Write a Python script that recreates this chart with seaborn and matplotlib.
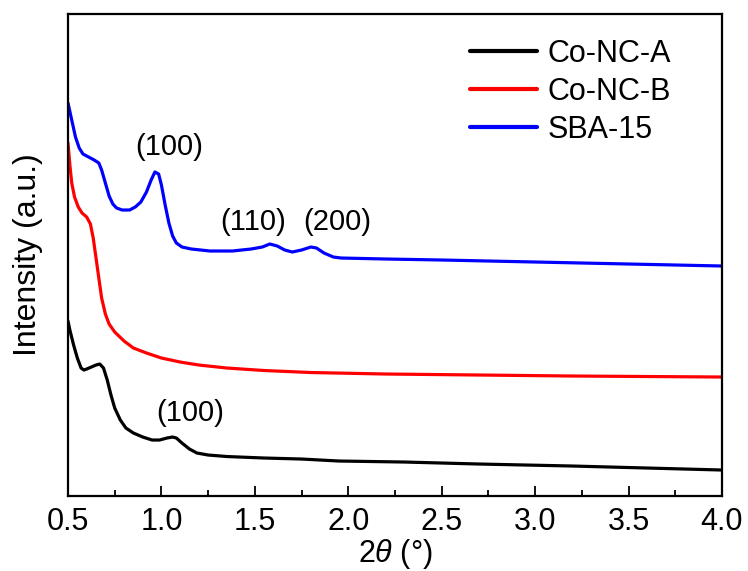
import numpy as np
import pandas as pd
import seaborn as sns
import matplotlib
matplotlib.use("Agg")
import matplotlib.pyplot as plt
from matplotlib.ticker import MultipleLocator

# Data (y in arbitrary intensity units)
sba_x = [0.50, 0.52, 0.54, 0.56, 0.58, 0.61, 0.64, 0.665, 0.68, 0.70, 0.72, 0.74, 0.76, 0.79,
         0.83, 0.86, 0.89, 0.92, 0.945, 0.965, 0.985, 1.00, 1.02, 1.04, 1.06, 1.08, 1.11, 1.16,
         1.26, 1.38, 1.48, 1.54, 1.58, 1.62, 1.66, 1.70, 1.75, 1.80, 1.83, 1.87, 1.92, 1.96,
         2.2, 2.5, 3.0, 3.5, 4.0]
sba_y = [393, 376, 359, 348, 342, 339, 336, 333, 326, 313, 300, 292, 288, 286,
         286, 289, 294, 304, 316, 324, 322, 311, 291, 273, 260, 253, 249, 247,
         245, 245, 247, 249, 252, 250, 246, 244, 246, 249, 248, 243, 239, 238,
         237, 236, 234, 232, 230]

ncb_x = [0.50, 0.51, 0.52, 0.535, 0.555, 0.575, 0.60, 0.62, 0.635, 0.65, 0.665, 0.68, 0.70,
         0.72, 0.75, 0.80, 0.85, 0.92, 1.00, 1.10, 1.20, 1.35, 1.55, 1.80, 2.2, 2.7, 3.2, 4.0]
ncb_y = [353, 331, 313, 299, 289, 283, 279, 272, 258, 238, 218, 198, 182,
         172, 164, 155, 148, 143, 138, 134, 131, 128, 125.5, 123.5, 122, 121, 120, 119]

nca_x = [0.50, 0.51, 0.53, 0.55, 0.57, 0.585, 0.60, 0.625, 0.65, 0.67, 0.69, 0.71, 0.73, 0.75,
         0.78, 0.81, 0.85, 0.90, 0.95, 0.99, 1.03, 1.06, 1.08, 1.11, 1.15, 1.19, 1.25, 1.35,
         1.55, 1.75, 1.95, 2.3, 2.7, 3.2, 3.6, 4.0]
nca_y = [175, 166, 151, 138, 128, 126, 127, 129, 131, 132, 128, 116, 101, 88,
         76, 68, 63, 59, 56, 56, 58, 59, 58, 53, 47, 43, 41, 39.5,
         38, 37, 35, 34, 32, 30, 28, 26]

series_names = ["Co-NC-A", "Co-NC-B", "SBA-15"]
colors = ["#000000", "#ff0000", "#0000ff"]

peak_labels = ["(100)", "(110)", "(200)", "(100)"]
peak_x = [1.04, 1.49, 1.94, 1.153]
peak_y = [349, 274, 274, 83]

df = pd.concat([
    pd.DataFrame({"x": nca_x, "y": nca_y, "sample": series_names[0]}),
    pd.DataFrame({"x": ncb_x, "y": ncb_y, "sample": series_names[1]}),
    pd.DataFrame({"x": sba_x, "y": sba_y, "sample": series_names[2]}),
])

sns.set_theme(style="ticks")
plt.rcParams['font.family'] = ['Liberation Sans', 'DejaVu Sans']
plt.rcParams['mathtext.fontset'] = 'custom'
plt.rcParams['mathtext.it'] = 'Liberation Sans:italic'
plt.rcParams['mathtext.rm'] = 'Liberation Sans'
for k in ['text.color', 'axes.labelcolor', 'xtick.color', 'ytick.color', 'axes.edgecolor']:
    plt.rcParams[k] = 'black'

fig = plt.figure(figsize=(7.48, 5.71), dpi=100)
ax = fig.add_axes([0.0909, 0.1313, 0.8743, 0.8442])

sns.lineplot(data=df, x="x", y="y", hue="sample", palette=colors, hue_order=series_names,
             linewidth=2.3, ax=ax, legend=True, sort=False)

ax.set_xlim(0.5, 4.0)
ax.set_ylim(0, 482)
ax.xaxis.set_major_locator(MultipleLocator(0.5))
ax.xaxis.set_minor_locator(MultipleLocator(0.25))
ax.tick_params(axis='x', which='major', direction='in', length=7, width=1.3, labelsize=22, pad=8, top=False)
ax.tick_params(axis='x', which='minor', direction='in', length=4, width=1.3, top=False)
ax.set_yticks([])
for s in ax.spines.values():
    s.set_linewidth(1.6)
    s.set_color('black')

ax.set_xlabel(r"2$\it{\theta}$ (°)", fontsize=22, labelpad=0)
ax.set_ylabel("Intensity (a.u.)", fontsize=23, labelpad=18)

for t, x, y in zip(peak_labels, peak_x, peak_y):
    ax.text(x, y, t, fontsize=21, ha='center', va='center')

leg = ax.legend(loc='upper left', bbox_to_anchor=(0.615, 0.948), frameon=False, fontsize=22,
                handlelength=2.2, handletextpad=0.33, labelspacing=0.26, borderpad=0,
                borderaxespad=0)
leg.set_title(None)
for line in leg.get_lines():
    line.set_linewidth(3)

fig.savefig("out.png", dpi=100)
